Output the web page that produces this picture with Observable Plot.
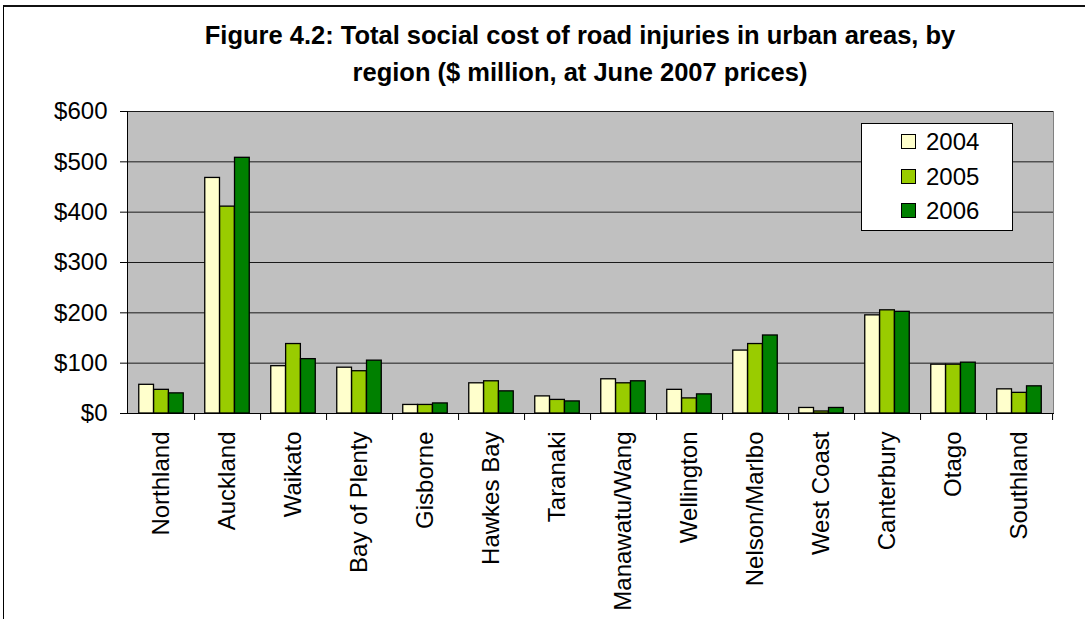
<!DOCTYPE html>
<html>
<head>
<meta charset="utf-8">
<script src="https://cdn.jsdelivr.net/npm/d3@7"></script>
<script src="https://cdn.jsdelivr.net/npm/@observablehq/plot@0.6"></script>
<style>
  html, body { margin: 0; padding: 0; background: #fff; }
  body { width: 1085px; height: 619px; overflow: hidden; position: relative; font-family: "Liberation Sans", Arial, sans-serif; }
  #box { position: absolute; left: 3px; top: 5px; width: 1120px; height: 640px; border-left: 1px solid #000; border-top: 2px solid #111; box-sizing: border-box; }
  #title { position: absolute; left: 0; top: 0; width: 1160px; text-align: center; font-weight: bold; font-size: 25.5px; line-height: 37px; padding-top: 17px; color: #000; }
  #chart { position: absolute; left: 0; top: 92px; }
  #legend { position: absolute; left: 861px; top: 123px; width: 152px; height: 108px; background: #fff; border: 1px solid #000; box-sizing: border-box; }
  .item { position: absolute; left: 39px; height: 26px; font-size: 24px; line-height: 26px; }
  .sw { position: absolute; left: 0; top: 5px; width: 15px; height: 15px; border: 1px solid #000; box-sizing: border-box; }
  .lab { position: absolute; left: 25px; top: 0; }
</style>
</head>
<body>
<div id="box"></div>
<div id="title">Figure 4.2: Total social cost of road injuries in urban areas, by<br>region ($ million, at June 2007 prices)</div>
<div id="chart"></div>
<div id="legend"></div>
<script>
// Regions on the x axis
const regions = ["Northland", "Auckland", "Waikato", "Bay of Plenty", "Gisborne", "Hawkes Bay", "Taranaki",
  "Manawatu/Wang", "Wellington", "Nelson/Marlbo", "West Coast", "Canterbury", "Otago", "Southland"];

// Social cost in $ million (June 2007 prices), one array per year
const cost2004 = [57, 468, 94, 91, 17, 60, 34, 68, 47, 125, 11, 195, 97, 48];
const cost2005 = [47, 411, 138, 84, 17, 64, 27, 60, 30, 138, 4, 205, 97, 41];
const cost2006 = [40, 508, 108, 105, 20, 44, 24, 64, 38, 155, 11, 202, 101, 54];

const years = ["2004", "2005", "2006"];
const yearColors = ["#FFFFCC", "#99CC00", "#008000"];
const yTicks = [0, 100, 200, 300, 400, 500, 600];

const series = [cost2004, cost2005, cost2006];
const table = years.flatMap((year, i) =>
  regions.map((region, j) => ({region, year, value: series[i][j]})));

const width = 1085, height = 527;
const marginLeft = 127, marginRight = 32, marginTop = 19, marginBottom = 206;
const step = (width - marginLeft - marginRight) / regions.length;
const barW = step * 0.225;
const inset = (step - barW) / 2;

// One bar mark per year, shifted side by side within each region band
const bars = years.map((year, i) =>
  Plot.barY(table.filter(d => d.year === year), {
    x: "region", y: "value",
    fill: yearColors[i], stroke: "#000", strokeWidth: 1.3,
    insetLeft: inset, insetRight: inset, dx: (i - 1) * barW
  }));

const chart = Plot.plot({
  width, height, marginLeft, marginRight, marginTop, marginBottom,
  style: {fontFamily: "'Liberation Sans', Arial, sans-serif", background: "transparent", color: "#000"},
  x: {domain: regions, padding: 0, label: null},
  y: {domain: [0, 600], label: null},
  marks: [
    Plot.frame({fill: "#C0C0C0", stroke: "#808080"}),
    Plot.gridY(yTicks, {stroke: "#1a1a1a", strokeOpacity: 1, strokeWidth: 1}),
    ...bars,
    Plot.frame({anchor: "left", stroke: "#000"}),
    Plot.frame({anchor: "bottom", stroke: "#000"}),
    Plot.axisY(yTicks, {tickFormat: d => "$" + d, tickSize: 7, tickPadding: 13, fontSize: 24, stroke: "#000", label: null}),
    Plot.axisX({tickSize: 0, tickPadding: 18, tickRotate: -90, fontSize: 24, label: null}),
    Plot.axisX({text: null, tickSize: 7, dx: step / 2, label: null, stroke: "#000"})
  ]
});
document.getElementById("chart").appendChild(chart);

// Year legend
const legend = document.getElementById("legend");
years.forEach((year, i) => {
  const item = document.createElement("div");
  item.className = "item";
  item.style.top = (5 + i * 34.7) + "px";
  item.innerHTML = `<span class="sw" style="background:${yearColors[i]}"></span><span class="lab">${year}</span>`;
  legend.appendChild(item);
});
</script>
</body>
</html>
